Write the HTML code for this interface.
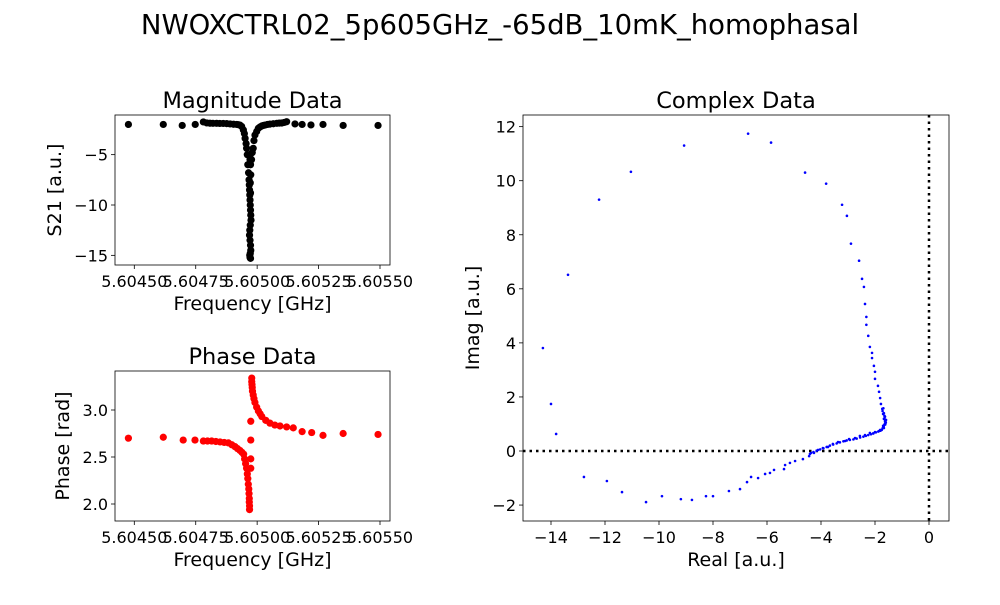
<!DOCTYPE html>
<html><head><meta charset="utf-8"><style>
body{margin:0;background:#fff;}
svg text{font-family:"DejaVu Sans","Liberation Sans",sans-serif;fill:#000;}
</style></head><body>
<svg id="fig" width="1000" height="600" xmlns="http://www.w3.org/2000/svg">
<rect width="1000" height="600" fill="#fff"/>
<text x="500" y="34" font-size="27.5" text-anchor="middle">NWOXCTRL02_5p605GHz_-65dB_10mK_homophasal</text>
</svg>
<script>
const magFreq=[5.604476,5.604618,5.604695,5.604748,5.604781,5.604795,5.604808,5.60482,5.604835,5.604848,5.604862,5.604876,5.60489,5.604904,5.604917,5.604924,5.60493,5.604937,5.604944,5.604948,5.604951,5.604955,5.604957,5.60496,5.604962,5.604965,5.604967,5.604968,5.604969,5.60497,5.604971,5.604972,5.604973,5.604974,5.604975,5.604972,5.60497,5.604969,5.604971,5.604973,5.604974,5.604972,5.60497,5.604971,5.604973,5.604972,5.604971,5.604973,5.604974,5.604972,5.604973,5.604977,5.60498,5.604984,5.604987,5.604991,5.604998,5.605005,5.605012,5.605019,5.605025,5.605032,5.605042,5.605052,5.605066,5.60508,5.60509,5.6051,5.60511,5.60512,5.605154,5.605183,5.605219,5.605268,5.60535,5.605492];
const magVals=[-2.0,-2.0,-2.1,-2.0,-1.75,-1.85,-1.88,-1.89,-1.89,-1.9,-1.9,-1.92,-1.95,-1.98,-2.0,-2.03,-2.06,-2.2,-2.55,-2.9,-3.38,-3.9,-4.37,-5.0,-6.0,-6.8,-7.5,-8.0,-8.5,-9.0,-9.5,-10.0,-10.5,-11.0,-11.5,-12.0,-12.5,-13.0,-13.5,-14.0,-14.5,-14.8,-15.0,-15.2,-15.3,-5.0,-5.5,-6.0,-7.0,-7.8,-8.8,-5.5,-4.8,-4.37,-3.6,-3.05,-2.7,-2.38,-2.25,-2.15,-2.1,-2.06,-2.0,-1.97,-1.93,-1.89,-1.87,-1.86,-1.8,-1.73,-1.95,-2.0,-2.05,-2.0,-2.1,-2.1];
const phFreq=[5.604476,5.604618,5.604699,5.604747,5.604781,5.604798,5.604815,5.604832,5.604849,5.604866,5.604883,5.604897,5.60491,5.60492,5.60493,5.604938,5.604945,5.604949,5.604953,5.604957,5.60496,5.604962,5.604964,5.604966,5.604967,5.604968,5.604968,5.604969,5.604969,5.604974,5.604974,5.604974,5.604974,5.604978,5.604978,5.604979,5.60498,5.604981,5.604984,5.604987,5.604991,5.604998,5.605005,5.605012,5.605019,5.605035,5.605052,5.605072,5.605093,5.60512,5.605147,5.605183,5.605222,5.605268,5.60535,5.605492];
const phVals=[2.70,2.71,2.68,2.68,2.67,2.67,2.67,2.665,2.66,2.655,2.65,2.63,2.61,2.59,2.57,2.55,2.53,2.48,2.43,2.38,2.32,2.27,2.21,2.16,2.11,2.06,2.02,1.98,1.94,2.88,2.68,2.48,2.38,3.34,3.3,3.27,3.24,3.2,3.16,3.12,3.08,3.03,2.99,2.96,2.93,2.89,2.86,2.84,2.83,2.82,2.81,2.77,2.76,2.73,2.75,2.74];
const reVals=[-14.30,-14.0,-13.81,-13.37,-12.78,-12.22,-11.93,-11.37,-11.04,-10.48,-9.89,-9.19,-9.07,-8.78,-8.26,-8.0,-7.41,-7.0,-6.74,-6.70,-6.59,-6.33,-6.07,-5.89,-5.74,-5.85,-5.37,-5.33,-5.15,-4.96,-4.67,-4.59,-4.44,-4.37,-4.26,-4.11,-3.93,-3.81,-3.74,-3.56,-3.37,-3.22,-3.11,-3.04,-2.96,-2.89,-2.74,-2.59,-2.56,-2.48,-2.41,-2.37,-2.37,-2.32,-2.32,-2.25,-2.19,-2.11,-2.11,-2.19,-2.04,-2.0,-2.0,-1.89,-1.85,-2.0,-1.81,-1.78,-1.73,-1.70,-1.67,-1.63,-1.67,-1.81,-1.63,-1.70,-1.85,-2.07,-1.65,-1.68,-4.41,-4.16,-3.91,-3.67,-3.42,-3.17,-2.93,-2.68,-2.43,-2.25,-2.06,-1.88,-1.75,-1.69,-1.63,-1.59,-1.63,-1.67,-1.69,-4.28,-4.03,-3.79,-3.55,-3.30,-3.05,-2.80,-2.55,-2.34,-2.15,-1.97,-1.80,-1.72,-1.66,-1.61,-1.65,-1.72,-1.62,-1.60];
const imVals=[3.81,1.74,0.63,6.52,-0.96,9.30,-1.11,-1.52,10.33,-1.89,-1.67,-1.78,11.30,-1.81,-1.67,-1.67,-1.48,-1.41,-1.15,11.74,-0.96,-1.0,-0.85,-0.81,-0.70,11.41,-0.67,-0.52,-0.44,-0.37,-0.30,10.30,-0.19,-0.07,-0.07,0.04,0.11,9.89,0.15,0.26,0.33,9.11,0.37,8.70,0.44,7.67,0.48,7.04,0.56,6.37,6.07,0.59,5.44,4.96,4.67,4.26,3.85,3.63,3.44,0.67,3.15,2.93,2.67,2.41,2.19,0.70,1.96,1.74,1.56,1.37,1.19,1.0,0.85,0.78,1.11,0.93,0.74,0.65,1.30,0.90,-0.11,0.01,0.10,0.20,0.28,0.36,0.41,0.46,0.53,0.59,0.65,0.72,0.78,0.90,1.02,1.15,1.27,1.40,1.58,-0.04,0.06,0.15,0.24,0.32,0.39,0.43,0.50,0.56,0.62,0.69,0.75,0.84,0.96,1.08,1.21,1.48,0.98,1.05];
const fTicks=[5.6045,5.60475,5.605,5.60525,5.6055];
const fTickLabels=["5.60450","5.60475","5.60500","5.60525","5.60550"];
const magTicks=[-5,-10,-15];
const phTicks=[2.0,2.5,3.0];
const reTicks=[-14,-12,-10,-8,-6,-4,-2,0];
const imTicks=[-2,0,2,4,6,8,10,12];

const svg=document.getElementById('fig');
const NS='http://www.w3.org/2000/svg';
function mk(tag,attrs,parent){const e=document.createElementNS(NS,tag);for(const k in attrs)e.setAttribute(k,attrs[k]);(parent||svg).appendChild(e);return e;}
function fmt(v,d){return (v<0?'\u2212':'')+Math.abs(v).toFixed(d);}

function axes(name,L,T,R,B,xs,ys,xt,xl,yt,yl,title,xlabel){
  const g=mk('g',{});
  
  
  xt.forEach((v,i)=>{const x=xs(v);mk('line',{x1:x,x2:x,y1:B,y2:B+4,stroke:'#000','stroke-width':0.8},g);
    const t=mk('text',{x:x,y:B+22,'font-size':16,'text-anchor':'middle'},g);t.textContent=xl[i];
    });
  yt.forEach((v,i)=>{const y=ys(v);mk('line',{x1:L-4,x2:L,y1:y,y2:y,stroke:'#000','stroke-width':0.8},g);
    const t=mk('text',{x:L-7,y:y+6,'font-size':16,'text-anchor':'end'},g);t.textContent=yl[i];
    });
  const tt=mk('text',{x:(L+R)/2,y:T-7,'font-size':22.5,'text-anchor':'middle'},g);tt.textContent=title;
  
  const xl2=mk('text',{x:(L+R)/2,y:B+45,'font-size':19,'text-anchor':'middle'},g);xl2.textContent=xlabel;
  
  return g;
}
function frame(g,L,T,R,B){mk('rect',{x:L,y:T,width:R-L,height:B-T,fill:'none',stroke:'#000','stroke-width':0.8},g);}
function ytitle(g,x,y,txt){const t=mk('text',{x:0,y:0,'font-size':19,'text-anchor':'middle',transform:`translate(${x},${y}) rotate(-90)`},g);t.textContent=txt;
  }

// Magnitude
(function(){
  const L=115,T=115,R=390,B=265;
  const xs=f=>134.3+(f-5.6045)*245700, ys=v=>104.3-(v)*10.07;
  const g=axes('magnitude-plot',L,T,R,B,xs,ys,fTicks,fTickLabels,magTicks,magTicks.map(v=>fmt(v,0)),'Magnitude Data','Frequency [GHz]');
  ytitle(g,61,(T+B)/2,'S21 [a.u.]');
  magFreq.forEach((f,i)=>{const c=mk('circle',{cx:xs(f),cy:ys(magVals[i]),r:3.6,fill:'#000'},g);
    });
  frame(g,L,T,R,B);
})();
// Phase
(function(){
  const L=115,T=371,R=390,B=521;
  const xs=f=>134.3+(f-5.6045)*245700, ys=v=>504-(v-2)*94;
  const g=axes('phase-plot',L,T,R,B,xs,ys,fTicks,fTickLabels,phTicks,phTicks.map(v=>v.toFixed(1)),'Phase Data','Frequency [GHz]');
  ytitle(g,69,(T+B)/2,'Phase [rad]');
  phFreq.forEach((f,i)=>{const c=mk('circle',{cx:xs(f),cy:ys(phVals[i]),r:3.6,fill:'#ff0000'},g);
    });
  frame(g,L,T,R,B);
})();
// Complex
(function(){
  const L=523,T=115,R=949,B=521;
  const xs=v=>929+v*27, ys=v=>451-v*27.03;
  const g=axes('complex-plot',L,T,R,B,xs,ys,reTicks,reTicks.map(v=>fmt(v,0)),imTicks,imTicks.map(v=>fmt(v,0)),'Complex Data','Real [a.u.]');
  ytitle(g,479,(T+B)/2,'Imag [a.u.]');
  const h=mk('line',{x1:L,x2:R,y1:ys(0),y2:ys(0),stroke:'#000','stroke-width':2.5,'stroke-dasharray':'2.5 4'},g);
  
  const v=mk('line',{x1:xs(0),x2:xs(0),y1:T,y2:B,stroke:'#000','stroke-width':2.5,'stroke-dasharray':'2.5 4'},g);
  
  reVals.forEach((r,i)=>{const c=mk('circle',{cx:xs(r),cy:ys(imVals[i]),r:1.3,fill:'#0000ff'},g);
    });
  frame(g,L,T,R,B);
})();
</script>
</body></html>
